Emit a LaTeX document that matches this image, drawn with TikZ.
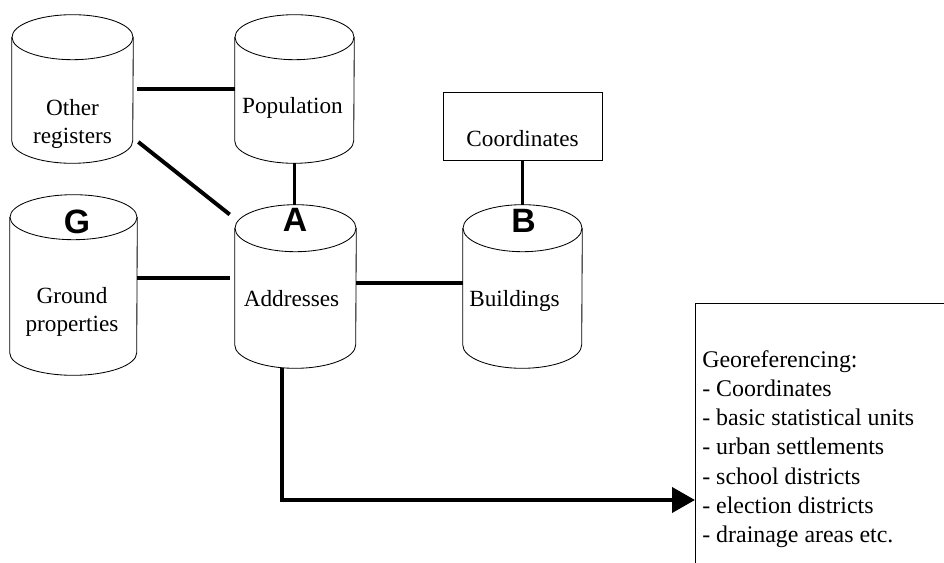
\documentclass[tikz,border=0pt]{standalone}
\usepackage{fontspec}
\setmainfont{Liberation Serif}
\newfontfamily\lettersf{Liberation Sans}
\usetikzlibrary{arrows.meta,positioning,shapes.geometric,calc}

\begin{document}
\begin{tikzpicture}[x=0.025cm,y=-0.025cm,
    db/.style={rectangle,inner sep=0pt,minimum width=3.025cm,minimum height=3.7cm},
    dbline/.style={line width=0.6pt},
    dbtext/.style={align=center,inner sep=0pt,font=\fontsize{16.5}{20}\selectfont},
    dbletter/.style={inner sep=0pt,font=\lettersf\bfseries\fontsize{24}{24}\selectfont},
    link/.style={line width=2.8pt}]
  \useasboundingbox (0,0) rectangle (944,563);
  \clip (0,0) rectangle (944,563);
  \node[db] (oth) at (72.5,89) {};
  \node[db,minimum width=2.975cm] (pop) at (294.5,89) {};
  \node[db,minimum width=3.175cm,minimum height=4.5cm] (gro) at (73.5,285) {};
  \node[db,minimum height=4.075cm] (adr) at (295.5,286.5) {};
  \node[db,minimum width=2.975cm,minimum height=4.075cm] (bld) at (522.5,286.5) {};
  \foreach \n/\hw/\ry in {oth/60.5/22.5,pop/59.5/22.5,gro/63.5/22.5,adr/60.5/23.5,bld/59.5/23.5}{
    \draw[dbline] ($(\n.north)+(0,\ry)$) ellipse [x radius=\hw*0.025cm,y radius=\ry*0.025cm];
    \draw[dbline] ($(\n.north west)+(0,\ry)$) -- ($(\n.south west)+(0,-\ry)$)
        arc[start angle=180,end angle=360,x radius=\hw*0.025cm,y radius=\ry*0.025cm]
        -- ($(\n.north east)+(0,\ry)$);
  }
  \node[draw,dbline,minimum width=3.975cm,minimum height=1.7cm] (crd) at (522.5,126) {};
  \node[draw,dbline,anchor=north west,minimum width=7cm,minimum height=7cm] (geo) at (695,303) {};
  \node[dbtext] (othtxt) at ($(oth)+(0,35)$) {Other\\registers};
  \node[dbtext] (poptxt) at ($(pop)+(-2,19)$) {Population};
  \node[dbtext] (grotxt) at ($(gro)+(-1.5,26.5)$) {Ground\\properties};
  \node[dbtext] (adrtxt) at ($(adr)+(-4,12)$) {Addresses};
  \node[dbtext] (bldtxt) at ($(bld)+(-8,14)$) {Buildings};
  \node[dbtext] (crdtxt) at ($(crd)+(0,13)$) {Coordinates};
  \node[dbletter] (glet) at (77,222) {G};
  \node[dbletter] (alet) at (295,219.5) {A};
  \node[dbletter] (blet) at (523.5,221) {B};
  \node[anchor=north west,align=left,inner sep=0pt,font=\fontsize{17}{20.7}\selectfont] (geotxt) at (702,350.5)
      {Georeferencing:\\- Coordinates\\- basic statistical units\\- urban settlements\\- school districts\\- election districts\\- drainage areas etc.};
  \coordinate (o1) at ($(oth.east)+(5,53)$);
  \coordinate (o2) at ($(adr.west)+(-5,-72)$);
  \coordinate (g1) at ($(gro.east)+(0,-7)$);
  \coordinate (b1) at ($(adr.east)+(0,-3.5)$);
  \coordinate (a1) at ($(adr.south)+(-13.5,0)$);
  \coordinate (tip) at (695,500);
  \draw[link,shorten <=0.1cm] (oth.east) -- (pop.west);
  \draw[link] (o1) -- (o2);
  \draw[link] (pop.south) -- (pop.south |- adr.north);
  \draw[link,shorten >=0.125cm] (g1) -- (g1 -| adr.west);
  \draw[link] (b1) -- (b1 -| bld.west);
  \draw[link] (crd.south) -- (crd.south |- bld.north);
  \draw[link,-{Triangle[length=0.575cm,width=0.625cm]}] (a1) |- (tip);
\end{tikzpicture}
\end{document}
